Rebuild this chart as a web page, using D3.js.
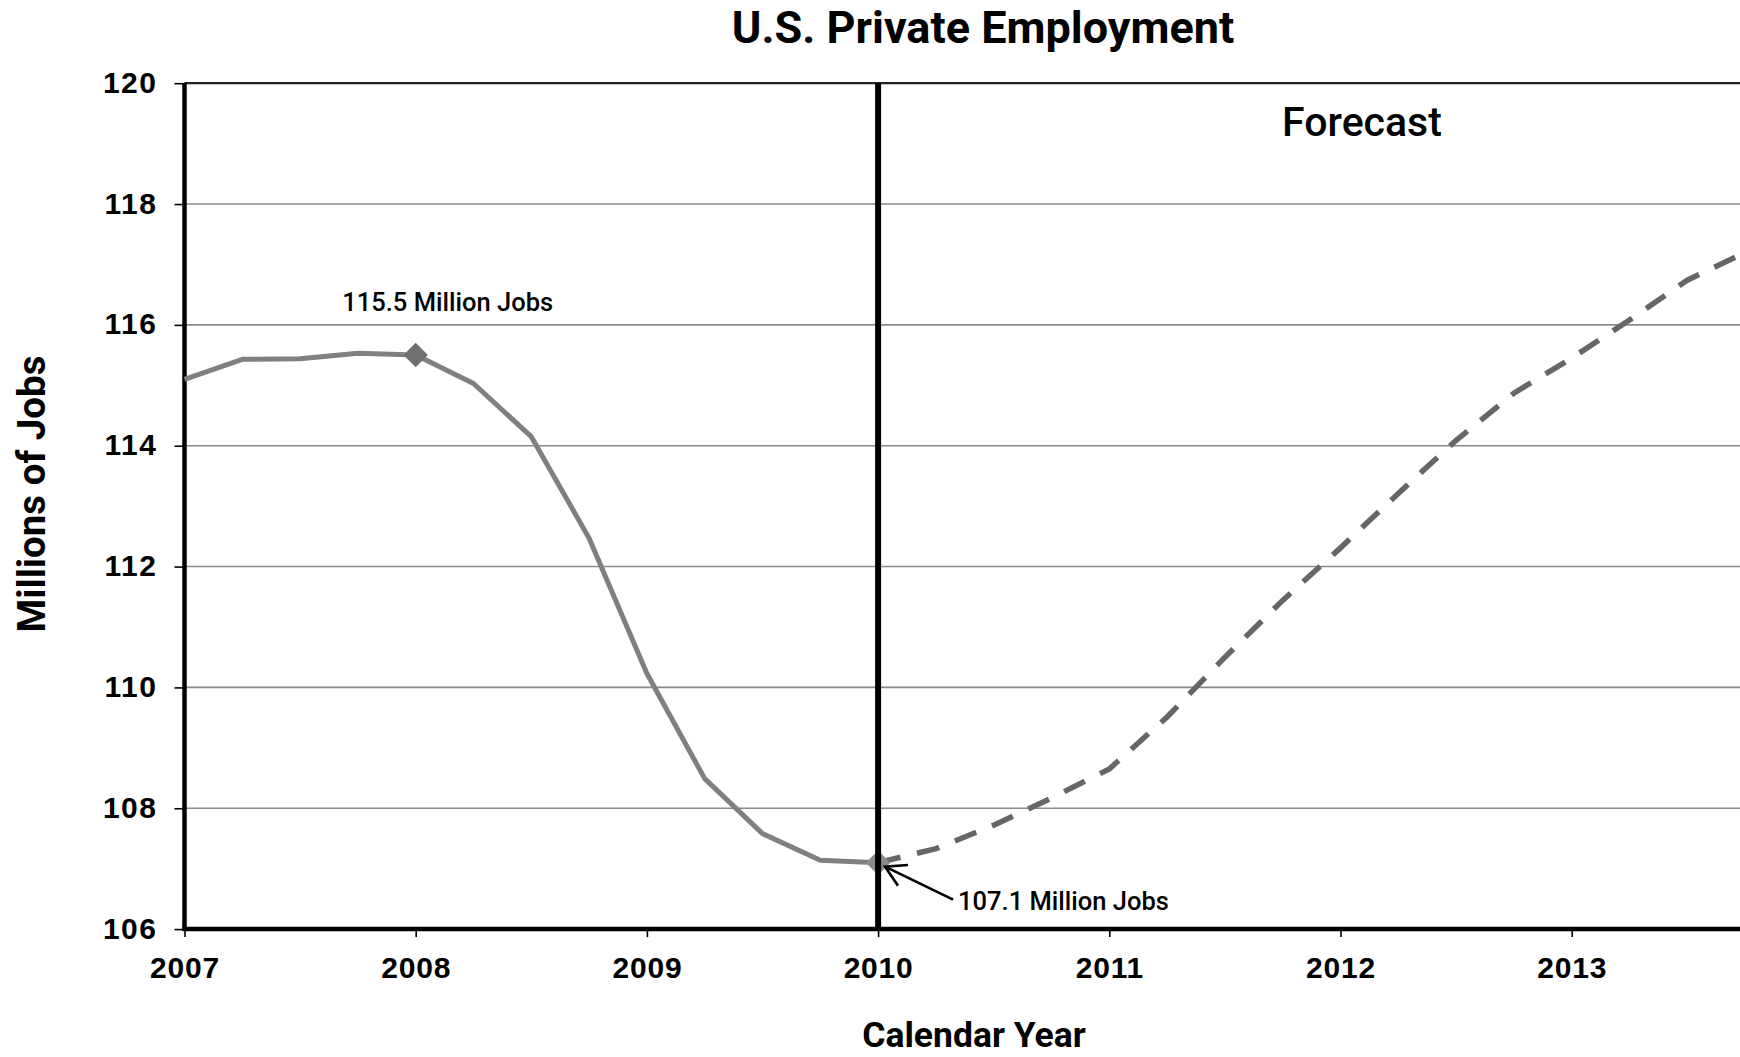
<!DOCTYPE html>
<html>
<head>
<meta charset="utf-8">
<script src="https://cdn.jsdelivr.net/npm/d3@7"></script>
<style>
  html, body { margin: 0; padding: 0; background: #fff; }
  svg { display: block; }
</style>
</head>
<body>
<svg id="chart" width="1740" height="1057"></svg>
<script>
// Quarterly U.S. private employment, millions of jobs
const actualYears  = [2007, 2007.25, 2007.5, 2007.75, 2008, 2008.25, 2008.5, 2008.75, 2009, 2009.25, 2009.5, 2009.75, 2010];
const actualJobs   = [115.10, 115.43, 115.44, 115.53, 115.50, 115.03, 114.15, 112.47, 110.23, 108.49, 107.58, 107.14, 107.10];

const forecastYears = [2010, 2010.25, 2010.5, 2010.75, 2011, 2011.25, 2011.5, 2011.75, 2012, 2012.25, 2012.5, 2012.75, 2013, 2013.25, 2013.5, 2013.75];
const forecastJobs  = [107.10, 107.33, 107.72, 108.17, 108.65, 109.51, 110.50, 111.44, 112.31, 113.21, 114.09, 114.87, 115.45, 116.08, 116.74, 117.20];

const yearTicks = [2007, 2008, 2009, 2010, 2011, 2012, 2013];
const jobTicks  = [106, 108, 110, 112, 114, 116, 118, 120];

// Labelled points: peak and trough
const peak   = { year: 2008, jobs: 115.5, label: "115.5 Million Jobs" };
const trough = { year: 2010, jobs: 107.1, label: "107.1 Million Jobs" };
const forecastStart = 2010;

const W = 1740, H = 1057;
const plotLeft = 184.5, plotTop = 83.2, plotBottom = 929.1;
const yearWidth = 231.2;

const svg = d3.select("#chart");

const x = d3.scaleLinear().domain([2007, 2014]).range([plotLeft, plotLeft + 7 * yearWidth]);
const y = d3.scaleLinear().domain([106, 120]).range([plotBottom, plotTop]);

const condensed = "Roboto, 'Liberation Sans', Arial, sans-serif";
const tickFont = "'Liberation Sans', Arial, Helvetica, sans-serif";

// horizontal gridlines
svg.append("g")
  .selectAll("line")
  .data(jobTicks.filter(v => v > 106 && v < 120))
  .join("line")
  .attr("x1", plotLeft).attr("x2", W)
  .attr("y1", d => y(d)).attr("y2", d => y(d))
  .attr("stroke", "#8a8a8a")
  .attr("stroke-width", 1.6);

// top border at 120
svg.append("line")
  .attr("x1", plotLeft).attr("x2", W)
  .attr("y1", y(120)).attr("y2", y(120))
  .attr("stroke", "#222").attr("stroke-width", 2.2);

// y axis
const yAxis = svg.append("g")
  .attr("transform", `translate(${plotLeft},0)`)
  .call(d3.axisLeft(y).tickValues(jobTicks).tickSize(10).tickPadding(17).tickFormat(d3.format("d")));
yAxis.select(".domain").remove();
yAxis.selectAll(".tick line").attr("stroke", "#000").attr("stroke-width", 1.6);
yAxis.selectAll(".tick text")
  .attr("font-family", tickFont)
  .attr("font-weight", "bold")
  .attr("font-size", 30)
  .attr("letter-spacing", 1.5)
  .attr("fill", "#000")
  .attr("dy", "0.3em");

// x axis
const xAxis = svg.append("g")
  .attr("transform", `translate(0,${plotBottom})`)
  .call(d3.axisBottom(x).tickValues(yearTicks).tickSize(8).tickPadding(20).tickFormat(d3.format("d")));
xAxis.select(".domain").remove();
xAxis.selectAll(".tick line").attr("stroke", "#000").attr("stroke-width", 1.6);
xAxis.selectAll(".tick text")
  .attr("font-family", tickFont)
  .attr("font-weight", "bold")
  .attr("font-size", 30)
  .attr("letter-spacing", 0.8)
  .attr("fill", "#000");

// heavy left and bottom axis lines
svg.append("line")
  .attr("x1", plotLeft).attr("x2", plotLeft)
  .attr("y1", plotTop).attr("y2", plotBottom + 2)
  .attr("stroke", "#000").attr("stroke-width", 4.5);
svg.append("line")
  .attr("x1", plotLeft - 2).attr("x2", W)
  .attr("y1", plotBottom).attr("y2", plotBottom)
  .attr("stroke", "#000").attr("stroke-width", 4.5);

// series
const line = d3.line().x(d => x(d[0])).y(d => y(d[1]));
const actual = actualYears.map((t, i) => [t, actualJobs[i]]);
const forecast = forecastYears.map((t, i) => [t, forecastJobs[i]]);

svg.append("path")
  .datum(actual)
  .attr("d", line)
  .attr("fill", "none")
  .attr("stroke", "#808080")
  .attr("stroke-width", 5)
  .attr("stroke-linejoin", "round");

svg.append("path")
  .datum(forecast)
  .attr("d", line)
  .attr("fill", "none")
  .attr("stroke", "#666666")
  .attr("stroke-width", 5.5)
  .attr("stroke-dasharray", "23,17");

// diamond markers
const diamond = d3.symbol(d3.symbolSquare, 300);
svg.append("g")
  .selectAll("path")
  .data([peak, trough])
  .join("path")
  .attr("d", diamond)
  .attr("transform", d => `translate(${x(d.year)},${y(d.jobs)}) rotate(45)`)
  .attr("fill", d => d === peak ? "#707070" : "#8a8a8a");

// forecast divider
svg.append("line")
  .attr("x1", x(forecastStart)).attr("x2", x(forecastStart))
  .attr("y1", plotTop).attr("y2", plotBottom + 2)
  .attr("stroke", "#000").attr("stroke-width", 6);

// peak annotation
svg.append("text")
  .attr("x", x(peak.year) + 32)
  .attr("y", y(peak.jobs) - 44)
  .attr("text-anchor", "middle")
  .attr("font-family", condensed)
  .attr("font-weight", 500)
  .attr("font-size", 25.5)
  .attr("fill", "#000")
  .text(peak.label);

// trough annotation with arrow
const tipX = x(trough.year) + 7, tipY = y(trough.jobs) + 4;
const tailX = tipX + 68, tailY = tipY + 33;
const ang = Math.atan2(tailY - tipY, tailX - tipX);
const wing = 23, spread = Math.PI / 6;
const arrow = d3.path();
arrow.moveTo(tailX, tailY); arrow.lineTo(tipX, tipY);
arrow.moveTo(tipX + wing * Math.cos(ang - spread), tipY + wing * Math.sin(ang - spread));
arrow.lineTo(tipX, tipY);
arrow.lineTo(tipX + wing * Math.cos(ang + spread), tipY + wing * Math.sin(ang + spread));
svg.append("path")
  .attr("d", arrow.toString())
  .attr("fill", "none")
  .attr("stroke", "#000")
  .attr("stroke-width", 2.7);

svg.append("text")
  .attr("x", tailX + 5)
  .attr("y", tailY + 10)
  .attr("font-family", condensed)
  .attr("font-weight", 500)
  .attr("font-size", 25.5)
  .attr("fill", "#000")
  .text(trough.label);

// Forecast label
svg.append("text")
  .attr("x", 1362)
  .attr("y", 136)
  .attr("text-anchor", "middle")
  .attr("font-family", condensed)
  .attr("font-weight", 500)
  .attr("font-size", 41)
  .attr("fill", "#000")
  .text("Forecast");

// title
svg.append("text")
  .attr("x", 983)
  .attr("y", 43)
  .attr("text-anchor", "middle")
  .attr("font-family", condensed)
  .attr("font-weight", "bold")
  .attr("font-size", 45)
  .attr("fill", "#000")
  .text("U.S. Private Employment");

// axis titles
svg.append("text")
  .attr("x", 974)
  .attr("y", 1047)
  .attr("text-anchor", "middle")
  .attr("font-family", condensed)
  .attr("font-weight", "bold")
  .attr("font-size", 35.5)
  .attr("fill", "#000")
  .text("Calendar Year");

svg.append("text")
  .attr("transform", "translate(45,494) rotate(-90)")
  .attr("text-anchor", "middle")
  .attr("font-family", condensed)
  .attr("font-weight", "bold")
  .attr("font-size", 38.5)
  .attr("fill", "#000")
  .text("Millions of Jobs");
</script>
</body>
</html>
